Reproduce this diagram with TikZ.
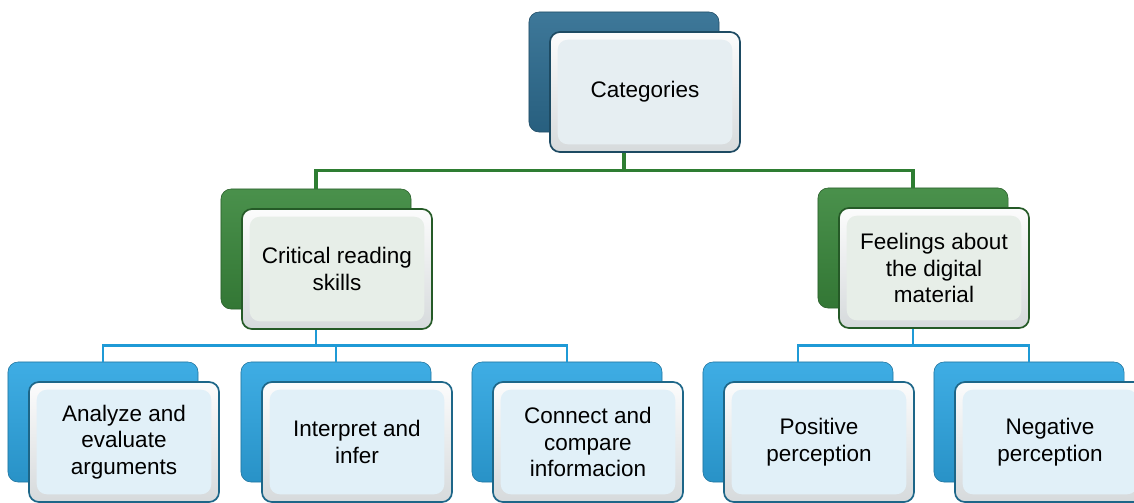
\documentclass[tikz,border=0pt]{standalone}
\usepackage{fontspec}
\setmainfont{Liberation Sans}
\usetikzlibrary{positioning}

\definecolor{catback}{HTML}{2D6C90}
\definecolor{catedge}{HTML}{1D4A62}
\definecolor{catpanel}{HTML}{E6EEF2}
\definecolor{skillback}{HTML}{3A873C}
\definecolor{skilledge}{HTML}{255A27}
\definecolor{skillpanel}{HTML}{E7EEE8}
\definecolor{leafback}{HTML}{2EA6E2}
\definecolor{leafedge}{HTML}{1D6688}
\definecolor{leafpanel}{HTML}{E1F0F8}
\definecolor{bevel}{HTML}{D6DADC}
\definecolor{greenline}{HTML}{2E7D32}
\definecolor{blueline}{HTML}{1F9AD6}

\begin{document}
\begin{tikzpicture}[x=0.025cm, y=-0.025cm,
    back/.style={rounded corners=0.25cm, minimum width=4.75cm, minimum height=3cm,
        draw=#1!70!black, top color=#1!92!white, bottom color=#1!88!black},
    front/.style 2 args={rounded corners=0.25cm, minimum width=4.75cm, minimum height=3cm,
        draw=#1, line width=1.2pt, top color=white!92!bevel, bottom color=bevel,
        align=center, font=\fontsize{16}{19}\selectfont,
        path picture={\fill[#2] ([shift={(5.5pt,-5.5pt)}]path picture bounding box.north west)
            rectangle ([shift={(-5.5pt,5.5pt)}]path picture bounding box.south east);}},
    greenlink/.style={draw=greenline, line width=2.4pt},
    bluelink/.style={draw=blueline, line width=2pt}]
    \useasboundingbox (0,0) rectangle (1134,502);

    % back boxes
    \node[back=catback] (catB) at (624, 72) {};
    \node[back=skillback] (critB) at (316, 249) {};
    \node[back=skillback] (feelB) at (913, 248) {};
    \node[back=leafback] (anaB) at (103, 422) {};
    \node[back=leafback] (intB) at (336, 422) {};
    \node[back=leafback] (conB) at (567, 422) {};
    \node[back=leafback] (posB) at (798, 422) {};
    \node[back=leafback] (negB) at (1029, 422) {};

    % connectors
    \draw[greenlink] (catB.south) -- ++(0,38) -| (critB.north);
    \draw[greenlink] (catB.south) -- ++(0,38) -| (feelB.north);
    \draw[bluelink] (critB.south) -- ++(0,36) -| (anaB.north);
    \draw[bluelink] (critB.south) -- ++(0,36) -| (intB.north);
    \draw[bluelink] (critB.south) -- ++(0,36) -| (conB.north);
    \draw[bluelink] (feelB.south) -- ++(0,37) -| (posB.north);
    \draw[bluelink] (feelB.south) -- ++(0,37) -| (negB.north);

    % front boxes
    \node[front={catedge}{catpanel}] (cat) at (645, 92) {Categories};
    \node[front={skilledge}{skillpanel}] (crit) at (337, 269) {Critical reading\\skills};
    \node[front={skilledge}{skillpanel}] (feel) at (934, 268) {Feelings about\\the digital\\material};
    \node[front={leafedge}{leafpanel}] (ana) at (124, 442) {Analyze and\\evaluate\\arguments};
    \node[front={leafedge}{leafpanel}] (int) at (357, 442) {Interpret and\\infer};
    \node[front={leafedge}{leafpanel}] (con) at (588, 442) {Connect and\\compare\\informacion};
    \node[front={leafedge}{leafpanel}] (pos) at (819, 442) {Positive\\perception};
    \node[front={leafedge}{leafpanel}] (neg) at (1050, 442) {Negative\\perception};
\end{tikzpicture}
\end{document}
